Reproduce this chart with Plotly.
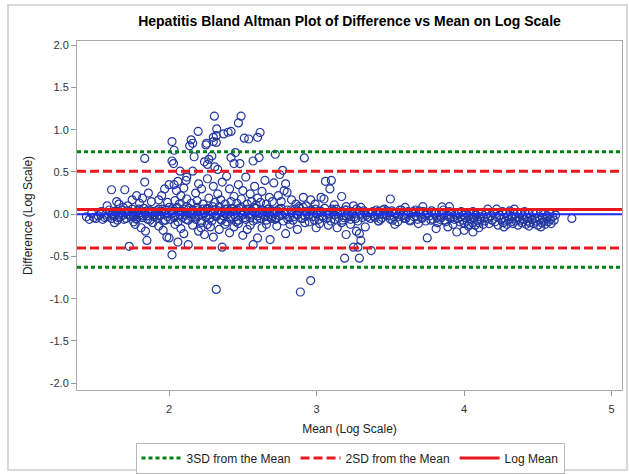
import plotly.graph_objects as go

# ---------------- data (Mean of logs, Difference of logs) ----------------
core_left = [(1.44,-0.03),(1.46,-0.06),(1.49,-0.04),(1.52,-0.02),(1.54,0.03),(1.55,-0.06),(1.57,0.00),
             (1.58,-0.03),(1.60,0.02),(1.61,-0.05),(1.62,0.01),(1.63,-0.02),(1.64,0.04),(1.65,-0.07),
             (1.66,0.00),(1.67,-0.03),(1.68,0.05),(1.69,-0.01),(1.70,0.02),(1.71,-0.05),(1.72,0.00),
             (1.73,0.03),(1.74,-0.03),(1.75,0.06),(1.76,-0.02),(1.77,0.01),(1.78,-0.06),(1.79,0.04),
             (1.80,-0.01),(1.81,0.02),(1.82,-0.04),(1.83,0.07),(1.84,0.00),(1.85,-0.02),(1.86,0.05),
             (1.87,-0.07),(1.88,0.01),(1.89,0.03),(1.90,-0.03)]
core_left2 = [(1.475,0.01),(1.505,-0.05),(1.535,0.00),(1.565,-0.04),(1.595,0.05),(1.615,-0.01),
              (1.635,0.03),(1.655,-0.04),(1.675,0.02),(1.695,-0.06),(1.715,0.04),(1.735,-0.01),
              (1.755,0.00),(1.775,-0.05),(1.795,0.06),(1.815,-0.02),(1.835,0.03),(1.855,-0.06),
              (1.875,0.04),(1.895,-0.01)]
spread_left = [(1.58,0.10),(1.61,0.29),(1.63,-0.10),(1.645,0.15),(1.66,0.12),(1.69,0.08),(1.70,0.29),
               (1.72,0.10),(1.73,-0.38),(1.75,0.17),(1.76,-0.09),(1.77,-0.12),(1.78,0.22),(1.80,0.13),
               (1.81,-0.16),(1.82,0.19),(1.835,0.38),(1.835,0.66),(1.84,-0.20),(1.85,-0.31),(1.86,0.25),
               (1.88,0.15),(1.89,-0.10)]
core_mid = [(1.91,0.02),(1.92,-0.05),(1.93,0.06),(1.94,-0.01),(1.95,0.03),(1.96,-0.08),(1.97,0.00),
            (1.98,0.05),(1.99,-0.03),(2.00,0.08),(2.01,-0.06),(2.02,0.01),(2.03,0.04),(2.04,-0.02),
            (2.05,0.07),(2.06,-0.09),(2.07,0.00),(2.08,0.03),(2.09,-0.04),(2.10,0.06),(2.11,-0.01),
            (2.12,0.09),(2.13,-0.07),(2.14,0.02),(2.15,-0.03),(2.16,0.05),(2.17,0.00),(2.18,-0.06),
            (2.19,0.08),(2.20,-0.02),(2.21,0.03),(2.22,-0.10),(2.23,0.06),(2.24,0.01),(2.25,-0.04),
            (2.26,0.07),(2.27,-0.01),(2.28,0.04),(2.29,-0.08),(2.30,0.02),(2.31,0.05),(2.32,-0.03),
            (2.33,0.00),(2.34,0.09),(2.35,-0.06),(2.36,0.03),(2.37,-0.02),(2.38,0.06),(2.39,-0.09),
            (2.40,0.01),(2.41,0.04),(2.42,-0.05),(2.43,0.07),(2.44,0.00),(2.45,-0.03),(2.46,0.05),
            (2.47,-0.07),(2.48,0.02),(2.49,0.08),(2.50,-0.01),(2.51,0.03),(2.52,-0.06),(2.53,0.06),
            (2.54,0.00),(2.55,-0.04),(2.56,0.04),(2.57,-0.08),(2.58,0.02),(2.59,0.07),(2.60,-0.02),
            (2.61,0.01),(2.62,-0.05),(2.63,0.05),(2.64,-0.01),(2.65,0.03),(2.66,-0.07),(2.67,0.06),
            (2.68,0.00),(2.69,-0.03),(2.70,0.04)]
core_mid2 = [(1.915,0.04),(1.935,-0.02),(1.955,0.06),(1.975,-0.07),(1.995,0.01),(2.015,0.05),
             (2.035,-0.04),(2.055,0.08),(2.075,-0.01),(2.095,0.03),(2.115,-0.06),(2.135,0.07),
             (2.155,0.00),(2.175,-0.03),(2.195,0.05),(2.215,-0.08),(2.235,0.02),(2.255,0.06),
             (2.275,-0.05),(2.295,0.09),(2.315,-0.02),(2.335,0.04),(2.355,-0.07),(2.375,0.01),
             (2.395,0.06),(2.415,-0.03),(2.435,0.03),(2.455,-0.09),(2.475,0.07),(2.495,0.00),
             (2.515,-0.04),(2.535,0.05),(2.555,-0.01),(2.575,0.08),(2.595,-0.06),(2.615,0.02),
             (2.635,0.04),(2.655,-0.02),(2.675,0.06),(2.695,-0.05)]
spread_mid_high = [(2.307,1.16),(2.488,1.16),(2.47,1.08),(2.197,0.98),(2.323,1.01),(2.40,0.97),(2.42,0.98),
                   (2.37,0.95),(2.32,0.93),(2.30,0.91),(2.30,0.86),(2.32,0.85),(2.255,0.84),(2.51,0.90),
                   (2.54,0.89),(2.60,0.91),(2.617,0.967),(2.02,0.86),(2.15,0.88),(2.16,0.84),(2.14,0.81),
                   (2.25,0.82),(2.034,0.757),(2.45,0.73),(2.02,0.63),(2.03,0.60),
                   (2.17,0.68),(2.24,0.62),(2.27,0.65),(2.29,0.69),(2.26,0.59),(2.31,0.56),(2.33,0.53),
                   (2.42,0.67),(2.44,0.60),(2.48,0.60),(2.57,0.63),(2.61,0.67),(2.075,0.51),(2.16,0.51),
                   (2.06,0.39),(2.115,0.40),(2.12,0.44),(2.20,0.36),(2.00,0.35),(2.034,0.35)]
spread_mid_low = [(2.05,0.28),(2.08,0.22),(2.10,0.31),(2.18,0.25),(2.22,0.30),(2.26,0.42),(2.30,0.33),
                  (2.33,0.24),(2.36,0.38),(2.39,0.45),(2.41,0.30),(2.44,0.21),(2.47,0.35),(2.50,0.28),
                  (2.52,0.44),(2.55,0.24),(2.58,0.33),(2.60,0.19),(2.63,0.27),(2.65,0.40),(2.68,0.20),
                  (1.95,0.22),(1.97,0.30),(1.93,0.17),(1.99,0.14),(2.04,0.16),(2.07,0.12),(2.12,0.18),
                  (2.15,0.13),(2.19,0.16),(2.23,0.12),(2.27,0.19),(2.31,0.14),(2.35,0.17),(2.38,0.12),
                  (2.42,0.15),(2.46,0.13),(2.49,0.18),(2.53,0.12),(2.56,0.15),(2.59,0.11),(2.62,0.14),
                  (2.66,0.12),(2.70,0.15),
                  (1.985,-0.27),(2.00,-0.28),(2.02,-0.48),(2.06,-0.33),(2.13,-0.36),(2.10,-0.23),
                  (2.36,-0.39),(2.30,-0.27),(2.32,-0.89),(2.44,-0.15),(2.53,-0.18),(2.57,-0.36),
                  (2.60,-0.28),(2.217,-0.16),(2.26,-0.12),(1.93,-0.14),(1.96,-0.19),(2.04,-0.12),
                  (2.08,-0.17),(2.16,-0.13),(2.20,-0.20),(2.24,-0.24),(2.28,-0.15),(2.34,-0.18),
                  (2.38,-0.12),(2.41,-0.22),(2.47,-0.11),(2.50,-0.25),(2.55,-0.13),(2.63,-0.16),
                  (2.66,-0.12),(2.685,-0.30)]
core_c = [(2.71,0.01),(2.72,-0.06),(2.735,0.04),(2.75,-0.02),(2.76,0.07),(2.775,-0.08),(2.79,0.00),
          (2.80,0.05),(2.815,-0.04),(2.83,0.02),(2.84,-0.07),(2.855,0.06),(2.87,-0.01),(2.88,0.03),
          (2.895,-0.05),(2.91,0.08),(2.92,-0.02),(2.935,0.01),(2.95,-0.09),(2.96,0.04),(2.975,-0.03),
          (2.99,0.06),(3.00,0.00),(3.015,-0.06),(3.03,0.03),(3.04,-0.02),(3.055,0.07),(3.07,-0.05),
          (3.08,0.01),(3.095,-0.08),(3.11,0.04),(3.12,-0.01),(3.135,0.06),(3.15,-0.04),(3.16,0.02),
          (3.175,-0.07),(3.19,0.05),(3.20,-0.02),(3.215,0.00),(3.23,-0.06),(3.24,0.03),(3.255,-0.03),
          (3.27,0.06),(3.28,-0.08),(3.295,0.01),(3.31,-0.04),(3.32,0.04),(3.335,-0.01),(3.35,0.02)]
core_c2 = [(2.705,0.03),(2.725,-0.04),(2.745,0.06),(2.765,-0.01),(2.785,0.02),(2.805,-0.06),
           (2.825,0.05),(2.845,-0.03),(2.865,0.00),(2.885,0.07),(2.905,-0.05),(2.925,0.03),
           (2.945,-0.02),(2.965,0.05),(2.985,-0.07),(3.005,0.01),(3.025,0.04),(3.045,-0.04),
           (3.065,0.02),(3.085,-0.01),(3.105,0.06),(3.125,-0.06),(3.145,0.00),(3.165,0.03),
           (3.185,-0.04),(3.205,0.05),(3.225,-0.02),(3.245,0.01),(3.265,-0.05),(3.285,0.04),
           (3.305,-0.01),(3.325,0.02),(3.345,-0.03)]
spread_c = [(2.72,0.71),(2.917,0.666),(2.77,0.52),(2.75,0.47),(2.71,0.37),(2.79,0.36),(2.78,0.28),
            (2.80,0.26),(3.06,0.39),(3.10,0.40),(3.09,0.30),(3.17,0.21),(2.91,0.20),(2.96,0.17),
            (3.03,0.20),(3.05,0.18),(2.83,0.17),(2.74,0.22),(2.76,0.15),(2.86,0.12),(2.88,0.09),
            (2.93,0.10),(2.99,0.12),(3.12,0.11),(3.20,0.09),(3.25,0.10),(3.30,0.08),
            (2.79,-0.23),(2.997,-0.16),(3.14,-0.16),(3.20,-0.24),(3.27,-0.20),(3.29,-0.23),
            (3.30,-0.31),(3.25,-0.39),(3.28,-0.39),(3.37,-0.43),(3.19,-0.52),(3.29,-0.52),
            (2.96,-0.785),(2.89,-0.92),(2.73,-0.14),(2.82,-0.12),(2.87,-0.18),(2.92,-0.10),
            (3.02,-0.11),(3.08,-0.13),(3.17,-0.10),(3.23,-0.12),(3.33,-0.15)]
core_d = [(3.365,-0.05),(3.38,0.03),(3.39,-0.02),(3.405,0.05),(3.42,-0.08),(3.43,0.00),(3.445,-0.04),
          (3.46,0.06),(3.47,-0.01),(3.485,0.02),(3.50,-0.06),(3.51,0.04),(3.525,-0.03),(3.54,0.01),
          (3.55,-0.09),(3.565,0.05),(3.58,-0.02),(3.59,0.00),(3.605,-0.05),(3.62,0.03),(3.63,-0.07),
          (3.645,0.02),(3.66,-0.03),(3.67,0.05),(3.685,-0.06),(3.70,0.00),(3.71,-0.04),(3.725,0.03),
          (3.74,-0.08),(3.75,0.01),(3.765,-0.02),(3.78,0.04),(3.79,-0.06),(3.805,0.00),(3.82,-0.10),
          (3.83,0.02),(3.845,-0.04),(3.86,0.05),(3.87,-0.07),(3.885,-0.01),(3.90,0.03),(3.91,-0.05),
          (3.925,-0.12),(3.94,0.00)]
core_d2 = [(3.375,0.01),(3.395,-0.04),(3.415,0.03),(3.435,-0.06),(3.455,0.00),(3.475,0.04),
           (3.495,-0.02),(3.515,-0.07),(3.535,0.02),(3.555,-0.03),(3.575,0.05),(3.595,-0.05),
           (3.615,0.00),(3.635,-0.08),(3.655,0.03),(3.675,-0.02),(3.695,0.04),(3.715,-0.05),
           (3.735,-0.01),(3.755,0.02),(3.775,-0.07),(3.795,0.01),(3.815,-0.04),(3.835,-0.06),
           (3.855,0.00),(3.875,-0.09),(3.895,-0.03),(3.915,0.02),(3.935,-0.06)]
spread_d = [(3.50,0.18),(3.60,0.08),(3.72,0.09),(3.90,0.09),(3.53,-0.12),(3.69,-0.11),(3.75,-0.28),
            (3.81,-0.17),(3.89,-0.15),(3.95,-0.21),(3.85,0.086),(3.42,-0.08),(3.45,0.05)]
core_e = [(3.955,-0.05),(3.96,0.01),(3.97,-0.09),(3.975,-0.03),(3.98,0.03),(3.99,-0.07),(3.995,-0.01),
          (4.00,-0.11),(4.01,-0.04),(4.015,0.02),(4.02,-0.08),(4.03,-0.02),(4.035,-0.12),(4.04,0.00),
          (4.05,-0.06),(4.055,-0.10),(4.06,0.03),(4.07,-0.04),(4.075,-0.13),(4.08,-0.01),(4.09,-0.07),
          (4.095,0.02),(4.10,-0.10),(4.11,-0.03),(4.115,-0.06),(4.12,0.01),(4.13,-0.12),(4.135,-0.04),
          (4.14,-0.08),(4.15,0.00),(4.16,-0.05),(4.17,-0.11),(4.18,-0.02),(4.19,-0.07),(4.20,0.02),
          (4.21,-0.09),(4.22,-0.03),(4.23,-0.13),(4.24,-0.01),(4.25,-0.06),(4.26,0.03),(4.265,-0.10),
          (4.27,-0.04),(4.28,-0.08),(4.285,0.01),(4.29,-0.12),(4.30,-0.02),(4.305,-0.06),(4.31,0.04),
          (4.32,-0.09),(4.325,-0.03),(4.33,-0.11),(4.34,0.00),(4.345,-0.05),(4.35,-0.08),(4.36,0.02),
          (4.365,-0.13),(4.37,-0.04),(4.38,-0.07),(4.385,0.01),(4.39,-0.10),(4.40,-0.02),(4.405,-0.06),
          (4.41,0.03),(4.42,-0.12),(4.425,-0.04),(4.43,-0.08),(4.44,0.00),(4.445,-0.10),(4.45,-0.03),
          (4.46,-0.06),(4.465,0.02),(4.47,-0.11),(4.48,-0.05),(4.485,-0.08),(4.49,0.01),(4.50,-0.13),
          (4.505,-0.03),(4.51,-0.07),(4.52,0.02),(4.525,-0.10),(4.53,-0.04),(4.54,-0.08),(4.545,0.00),
          (4.55,-0.12),(4.56,-0.05),(4.565,-0.02),(4.57,-0.09),(4.58,0.01),(4.585,-0.06),(4.59,-0.11),
          (4.60,-0.03),(4.61,-0.07),(4.62,-0.01)]
spread_e = [(4.00,-0.19),(4.06,-0.21),(4.03,-0.14),(4.16,0.06),(4.22,0.06),(4.34,0.06),(4.73,-0.05),
            (4.10,-0.16),(4.27,-0.15),(4.44,-0.14),(4.52,-0.15)]

groups = [core_left, core_left2, spread_left, core_mid, core_mid2, spread_mid_high, spread_mid_low,
          core_c, core_c2, spread_c, core_d, core_d2, spread_d, core_e, spread_e]
mean_log = [p[0] for g in groups for p in g]
diff_log = [p[1] for g in groups for p in g]

log_mean = 0.055
sd2_upper, sd2_lower = 0.51, -0.40
sd3_upper, sd3_lower = 0.738, -0.628
zero_ref = 0.0

x_range = [1.376, 5.07]
y_range = [-2.08, 2.05]
x_ticks = [2, 3, 4, 5]
y_ticks = [2.0, 1.5, 1.0, 0.5, 0.0, -0.5, -1.0, -1.5, -2.0]
y_tick_text = ["2.0", "1.5", "1.0", "0.5", "0.0", "-0.5", "-1.0", "-1.5", "-2.0"]

FONT = "Liberation Sans, Arial, sans-serif"
RED = "rgb(230,25,30)"
GREEN = "rgb(0,130,20)"
MARK = "rgb(35,55,160)"

fig = go.Figure()
fig.add_trace(go.Scatter(x=mean_log, y=diff_log, mode="markers", showlegend=False,
                         marker=dict(symbol="circle-open", size=8, color=MARK,
                                     line=dict(width=1.2, color=MARK))))
fig.add_trace(go.Scatter(x=x_range, y=[zero_ref, zero_ref], mode="lines", showlegend=False,
                         line=dict(color="rgb(30,40,255)", width=2)))
fig.add_trace(go.Scatter(x=[x_range[0], x_range[1], None, x_range[0], x_range[1]],
                         y=[sd3_upper, sd3_upper, None, sd3_lower, sd3_lower],
                         mode="lines", name="3SD from the Mean", connectgaps=False,
                         line=dict(color=GREEN, width=3, dash="4px,3px")))
fig.add_trace(go.Scatter(x=[x_range[0], x_range[1], None, x_range[0], x_range[1]],
                         y=[sd2_upper, sd2_upper, None, sd2_lower, sd2_lower],
                         mode="lines", name="2SD from the Mean", connectgaps=False,
                         line=dict(color=RED, width=3, dash="9px,4px")))
fig.add_trace(go.Scatter(x=x_range, y=[log_mean, log_mean], mode="lines", name="Log Mean",
                         line=dict(color=RED, width=3)))

L, R, T, B = 77, 7, 41, 84
W, H = 629, 474
pw, ph = W - L - R, H - T - B

def px(xp):
    return (xp - L) / pw

def py(yp):
    return (H - B - yp) / ph

fig.update_layout(
    width=W, height=H,
    margin=dict(l=L, r=R, t=T, b=B, autoexpand=False),
    paper_bgcolor="white", plot_bgcolor="white",
    font=dict(family=FONT, size=11, color="#333333"),
    title=dict(text="<b>Hepatitis Bland Altman Plot of Difference vs Mean on Log Scale</b>",
               x=0.5, xref="paper", xanchor="center",
               y=1 - 21 / H, yref="container", yanchor="middle",
               font=dict(family=FONT, size=14, color="#000000")),
    xaxis=dict(range=x_range, tickvals=x_ticks, ticks="outside", ticklen=5, tickcolor="#9a9a9a",
               showgrid=False, zeroline=False, showline=True, linecolor="#a8a8a8", linewidth=1,
               mirror=True, tickfont=dict(size=11, color="#333333"), ticklabelstandoff=4,
               title=dict(text="Mean (Log Scale)", font=dict(size=12, color="#222222"), standoff=10)),
    yaxis=dict(range=y_range, tickvals=y_ticks, ticktext=y_tick_text, ticks="outside", ticklen=5,
               tickcolor="#9a9a9a", showgrid=False, zeroline=False, showline=True,
               linecolor="#a8a8a8", linewidth=1, mirror=True,
               tickfont=dict(size=11, color="#333333"),
               title=dict(text="Difference (Log Scale)", font=dict(size=12, color="#222222"), standoff=14)),
    legend=dict(orientation="h", x=px(350), xanchor="center", y=py(458), yanchor="middle",
                bordercolor="#b8b8b8", borderwidth=1, bgcolor="white",
                font=dict(size=12, color="#222222"), itemwidth=40),
    shapes=[dict(type="rect", xref="paper", yref="paper",
                 x0=px(8), x1=px(627), y0=py(470), y1=py(5),
                 line=dict(color="#d8d8d8", width=2), fillcolor="rgba(0,0,0,0)", layer="below")],
)

fig.write_html("out.html", config={"displayModeBar": False},
               post_script="document.body.style.margin='0px';")
